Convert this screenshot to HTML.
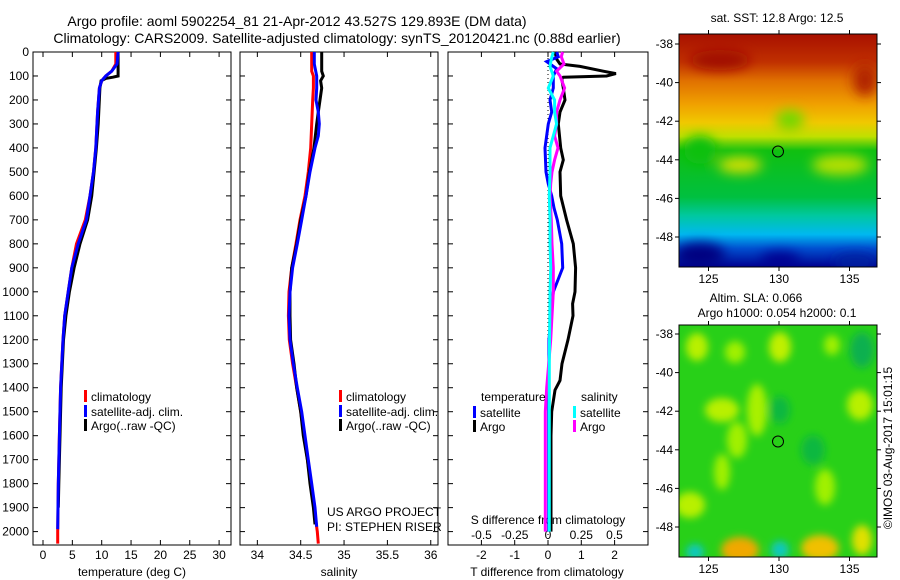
<!DOCTYPE html>
<html><head><meta charset="utf-8"><style>
body{margin:0;background:#fff;}
svg{display:block;font-family:"Liberation Sans",sans-serif;}
</style></head><body>
<svg id="fig" width="900" height="580" viewBox="0 0 900 580" xmlns="http://www.w3.org/2000/svg">
<defs>
<linearGradient id="sstGrad" x1="0" y1="0" x2="0" y2="1">
<stop offset="0" stop-color="#a81000"/><stop offset="0.12" stop-color="#c03000"/>
<stop offset="0.2" stop-color="#e07000"/><stop offset="0.3" stop-color="#f0a000"/>
<stop offset="0.38" stop-color="#f0c800"/><stop offset="0.44" stop-color="#c0e000"/>
<stop offset="0.5" stop-color="#10c010"/><stop offset="0.7" stop-color="#00c040"/>
<stop offset="0.78" stop-color="#00c8a0"/><stop offset="0.86" stop-color="#00b8f0"/>
<stop offset="0.92" stop-color="#0050d0"/><stop offset="1" stop-color="#000090"/>
</linearGradient>
<filter id="blur4"><feGaussianBlur stdDeviation="4"/></filter>
<filter id="blur6"><feGaussianBlur stdDeviation="6"/></filter>
<clipPath id="clipTop"><rect x="679" y="34" width="198" height="233"/></clipPath>
<clipPath id="clipBot"><rect x="679" y="325" width="198" height="232"/></clipPath>
</defs>
<g font-size="14" text-anchor="middle" fill="#000">
<text x="297" y="26">Argo profile: aoml 5902254_81 21-Apr-2012 43.527S 129.893E (DM data)</text>
<text x="337" y="43">Climatology: CARS2009. Satellite-adjusted climatology: synTS_20120421.nc (0.88d earlier)</text>
</g>
<g id="p1"></g>
<g id="p2"></g>
<g id="p3"></g>
<g id="maps">
<g clip-path="url(#clipTop)">
<rect x="679" y="34" width="198" height="233" fill="url(#sstGrad)"/>
<g filter="url(#blur6)">
<ellipse cx="700" cy="150" rx="16" ry="14" fill="#10c010"/>
<ellipse cx="840" cy="165" rx="28" ry="10" fill="#b8e000"/>
<ellipse cx="790" cy="120" rx="14" ry="10" fill="#70d800"/>
<ellipse cx="740" cy="165" rx="22" ry="8" fill="#d8e000"/>
<ellipse cx="720" cy="60" rx="30" ry="10" fill="#a00c00"/>
<ellipse cx="865" cy="80" rx="12" ry="16" fill="#b02000"/>
<ellipse cx="700" cy="255" rx="25" ry="12" fill="#000080"/>
<ellipse cx="780" cy="260" rx="20" ry="8" fill="#000090"/>
<ellipse cx="855" cy="262" rx="22" ry="8" fill="#0020a0"/>
</g>
<circle cx="778" cy="151.5" r="5.5" fill="none" stroke="#000" stroke-width="1"/>
</g>
<rect x="679" y="34" width="198" height="233" fill="none" stroke="#000"/>
<g clip-path="url(#clipBot)">
<rect x="679" y="325" width="198" height="232" fill="#28d018"/>
<g filter="url(#blur4)">
<ellipse cx="697" cy="347" rx="11" ry="14" fill="#b8f000"/>
<ellipse cx="735" cy="352" rx="10" ry="11" fill="#a0f000"/>
<ellipse cx="780" cy="347" rx="11" ry="15" fill="#c0f000"/>
<ellipse cx="832" cy="345" rx="8" ry="10" fill="#a0f000"/>
<ellipse cx="862" cy="350" rx="12" ry="18" fill="#10b050"/>
<ellipse cx="722" cy="410" rx="17" ry="12" fill="#b8f000"/>
<ellipse cx="757" cy="410" rx="10" ry="26" fill="#a8f000"/>
<ellipse cx="737" cy="440" rx="10" ry="18" fill="#a0f000"/>
<ellipse cx="722" cy="472" rx="8" ry="18" fill="#a0f000"/>
<ellipse cx="860" cy="405" rx="13" ry="15" fill="#b8f000"/>
<ellipse cx="780" cy="410" rx="10" ry="14" fill="#10b840"/>
<ellipse cx="813" cy="450" rx="12" ry="15" fill="#10b840"/>
<ellipse cx="825" cy="487" rx="10" ry="18" fill="#a0f000"/>
<ellipse cx="690" cy="505" rx="15" ry="13" fill="#b8f000"/>
<ellipse cx="740" cy="550" rx="19" ry="13" fill="#f0a800"/>
<ellipse cx="820" cy="548" rx="19" ry="13" fill="#f0c000"/>
<ellipse cx="695" cy="552" rx="9" ry="8" fill="#10c8c0"/>
<ellipse cx="780" cy="550" rx="9" ry="9" fill="#10c8c0"/>
<ellipse cx="862" cy="540" rx="10" ry="15" fill="#e0e000"/>
</g>
<circle cx="778" cy="441.5" r="5.5" fill="none" stroke="#000" stroke-width="1"/>
</g>
<rect x="679" y="325" width="198" height="232" fill="none" stroke="#000"/>
<g font-size="12" text-anchor="middle">
<text x="777" y="22">sat. SST: 12.8 Argo: 12.5</text>
<text x="756" y="302">Altim. SLA: 0.066</text>
<text x="777" y="317">Argo h1000: 0.054 h2000: 0.1</text>
<text transform="translate(892,448) rotate(-90)">©IMOS 03-Aug-2017 15:01:15</text>
</g>
<g id="mapAxes"></g>
</g>
</svg>
<script>
// ---- data ----
const tDepthRed=[0,50,80,100,120,150,250,400,500,600,700,800,900,1000,1100,1200,1400,1600,1800,2000,2050];
const tClim=[12.4,12.4,11.7,10.7,10.0,9.6,9.3,9.0,8.6,8.0,7.2,5.7,4.9,4.3,3.7,3.4,3.0,2.8,2.6,2.5,2.5];
const tDepthBlue=[0,50,80,100,120,150,250,400,500,600,700,800,900,1000,1100,1200,1400,1600,1800,1990];
const tSat=[12.8,12.6,11.7,10.7,10.0,9.6,9.3,9.0,8.6,8.0,7.4,6.0,4.9,4.3,3.7,3.4,3.0,2.8,2.6,2.5];
const tDepthArgo=[0,100,105,110,120,150,300,400,500,600,700,800,900,1000,1100,1200,1400,1600,1800,1900];
const tArgo=[12.8,12.8,11.9,10.7,9.9,9.7,9.4,9.1,8.7,8.3,7.6,6.3,5.3,4.5,3.9,3.5,3.1,2.9,2.7,2.6];

const sDepthRed=[0,80,100,150,200,400,500,600,700,800,900,1000,1100,1200,1300,1400,1500,1600,1700,1800,1900,2000,2050];
const sClim=[34.627,34.627,34.646,34.646,34.638,34.615,34.588,34.550,34.492,34.446,34.396,34.365,34.358,34.369,34.407,34.454,34.500,34.538,34.577,34.615,34.653,34.692,34.703];
const sDepthBlue=[0,50,100,150,200,250,300,350,400,500,600,700,800,900,1000,1100,1200,1300,1400,1500,1600,1700,1800,1900,1980];
const sSat=[34.657,34.657,34.684,34.684,34.676,34.703,34.715,34.703,34.665,34.607,34.561,34.511,34.461,34.407,34.377,34.365,34.377,34.415,34.461,34.511,34.550,34.588,34.627,34.665,34.684];
const sDepthArgo=[0,80,100,120,150,200,250,300,400,500,600,700,800,900,1000,1100,1200,1300,1400,1500,1600,1700,1800,1900,1970];
const sArgo=[34.742,34.742,34.761,34.730,34.742,34.723,34.703,34.684,34.653,34.600,34.561,34.500,34.454,34.396,34.377,34.377,34.384,34.423,34.454,34.500,34.530,34.577,34.607,34.646,34.665];

const dDepthTA=[0,30,50,60,80,90,100,105,110,150,200,250,300,400,450,500,600,700,800,900,1000,1050,1100,1200,1300,1370,1410,1500,1600,1800,2000];
const dTArgo=[0.21,0.26,0.36,0.96,1.66,2.04,1.76,0.46,0.41,0.46,0.51,0.36,0.31,0.38,0.46,0.36,0.38,0.56,0.76,0.83,0.81,0.74,0.75,0.6,0.42,0.36,0.21,0.11,0.09,0.09,0.09];
const dDepthTS=[0,20,40,50,70,100,150,200,250,300,400,500,550,600,650,700,800,900,1000,1100,1200,1500,2000];
const dTSat=[0.26,0.31,-0.04,0.06,0.26,0.16,0.16,0.06,0.11,0.01,-0.09,-0.06,0.01,0.11,0.18,0.28,0.41,0.44,0.16,0.09,0.03,0.02,0.02];
const dDepthSA=[0,20,50,80,100,150,200,250,300,350,400,450,500,550,600,700,800,900,1000,1200,1400,1500,1700,2000];
const dSArgo=[0.11,0.10,0.12,0.065,0.09,0.125,0.09,0.065,0.065,0.05,0.075,0.05,0.03,0.02,0.015,0.025,0.03,0.04,0.04,0.02,-0.01,-0.02,-0.02,-0.02];
const dDepthSS=[0,30,60,100,150,200,250,300,350,400,500,600,700,800,900,1000,1300,1600,2000];
const dSSat=[0.04,0.025,0.015,0.04,0.002,0.05,0.05,0.065,0.04,0.015,0.015,0.01,0.015,0.015,0.02,0.015,0.01,0.01,0.01];

const depthTicks=[0,100,200,300,400,500,600,700,800,900,1000,1100,1200,1300,1400,1500,1600,1700,1800,1900,2000];
const tempTicks=[0,5,10,15,20,25,30];
const salTicks=[34,34.5,35,35.5,36];
const tdTicks=[-2,-1,0,1,2];
const sdTicks=[-0.5,-0.25,0,0.25,0.5];
const lonTicks=[125,130,135];
const latTicks=[-38,-40,-42,-44,-46,-48];

// ---- scales ----
const NS='http://www.w3.org/2000/svg';
const yD=d=>52+d*0.2398;
const xT=t=>43+t*5.87;
const xS=s=>300.7+(s-34.5)*86.7;
const xTD=t=>548+t*33.3;
const xSD=s=>548+s*133;
const P1={x0:33,x1:231},P2={x0:240,x1:438},P3={x0:448,x1:648};
const Y0=52,Y1=545;
function el(tag,attrs,parent){const e=document.createElementNS(NS,tag);for(const k in attrs)e.setAttribute(k,attrs[k]);parent.appendChild(e);return e;}
function txt(x,y,s,anchor,parent,size){const t=el('text',{x:x,y:y,'text-anchor':anchor,'font-size':size||12},parent);t.textContent=s;return t;}

function frame(g,P,name){
  const r=el('rect',{x:P.x0,y:Y0,width:P.x1-P.x0,height:Y1-Y0,fill:'none',stroke:'#000'},g);
  
  
  depthTicks.forEach(d=>{
    el('line',{x1:P.x0,x2:P.x0+5,y1:yD(d),y2:yD(d),stroke:'#000'},g);
    el('line',{x1:P.x1,x2:P.x1-5,y1:yD(d),y2:yD(d),stroke:'#000'},g);
  });
}
function xticks(g,vals,fx){
  vals.forEach(v=>{
    el('line',{x1:fx(v),x2:fx(v),y1:Y1,y2:Y1-5,stroke:'#000'},g);
    el('line',{x1:fx(v),x2:fx(v),y1:Y0,y2:Y0+5,stroke:'#000'},g);
  });
}
function line(g,depths,vals,fx,color,name,w){
  const pts=depths.map((d,i)=>fx(vals[i]).toFixed(1)+','+yD(d).toFixed(1)).join(' ');
  const p=el('polyline',{points:pts,fill:'none',stroke:color,'stroke-width':w||3,'stroke-linejoin':'miter'},g);
  
  
}
function legend(g,x,y,color,label,name){
  el('rect',{x:x,y:y-9,width:3,height:12,fill:color},g);
  const t=txt(x+7,y+2,label,'start',g);
  
  
}

// panel 1
const g1=document.getElementById('p1');
frame(g1,P1,'temperature-panel');
xticks(g1,tempTicks,xT);
depthTicks.forEach(d=>{const t=txt(29,yD(d)+4,String(d),'end',g1);});
tempTicks.forEach(v=>{const t=txt(xT(v),559,String(v),'middle',g1);});
const xl1=txt(132,576,'temperature (deg C)','middle',g1);


line(g1,tDepthRed,tClim,xT,'#ff0000','temp-climatology-line');
line(g1,tDepthArgo,tArgo,xT,'#000000','temp-argo-line');
line(g1,tDepthBlue,tSat,xT,'#0000ff','temp-satellite-line');
legend(g1,84,399,'#ff0000','climatology','legend-climatology');
legend(g1,84,414,'#0000ff','satellite-adj. clim.','legend-satellite');
legend(g1,84,428,'#000000','Argo(..raw -QC)','legend-argo');

// panel 2
const g2=document.getElementById('p2');
frame(g2,P2,'salinity-panel');
xticks(g2,salTicks,xS);
salTicks.forEach(v=>{const t=txt(xS(v),559,String(v),'middle',g2);});
const xl2=txt(339,576,'salinity','middle',g2);


line(g2,sDepthRed,sClim,xS,'#ff0000','sal-climatology-line');
line(g2,sDepthArgo,sArgo,xS,'#000000','sal-argo-line');
line(g2,sDepthBlue,sSat,xS,'#0000ff','sal-satellite-line');
legend(g2,339,399,'#ff0000','climatology','legend-climatology-2');
legend(g2,339,414,'#0000ff','satellite-adj. clim.','legend-satellite-2');
legend(g2,339,428,'#000000','Argo(..raw -QC)','legend-argo-2');
const pr1=txt(327,516,'US ARGO PROJECT','start',g2);


const pr2=txt(327,531,'PI: STEPHEN RISER','start',g2);



// panel 3
const g3=document.getElementById('p3');
frame(g3,P3,'difference-panel');
xticks(g3,tdTicks,xTD);
el('line',{x1:548,x2:548,y1:Y0+2,y2:Y1-2,stroke:'#000','stroke-dasharray':'1,3'},g3);
tdTicks.forEach(v=>{const t=txt(xTD(v),559,String(v),'middle',g3);});
sdTicks.forEach(v=>{const t=txt(xSD(v),539,String(v),'middle',g3);});
const st=txt(548,524,'S difference from climatology','middle',g3);


const tt=txt(547,576,'T difference from climatology','middle',g3);


line(g3,dDepthTA,dTArgo,xTD,'#000000','tdiff-argo-line');
line(g3,dDepthTS,dTSat,xTD,'#0000ff','tdiff-satellite-line');
line(g3,dDepthSA,dSArgo,xSD,'#ff00ff','sdiff-argo-line');
line(g3,dDepthSS,dSSat,xSD,'#00ffff','sdiff-satellite-line');
const lt=txt(481,401,'temperature','start',g3);


legend(g3,473,415,'#0000ff','satellite','legend-tdiff-satellite');
legend(g3,473,429,'#000000','Argo','legend-tdiff-argo');
const ls=txt(581,401,'salinity','start',g3);


legend(g3,573,415,'#00ffff','satellite','legend-sdiff-satellite');
legend(g3,573,429,'#ff00ff','Argo','legend-sdiff-argo');

// map axes
const gm=document.getElementById('mapAxes');
const xLon=l=>779+(l-130)*14.1;
[[44,34,267],[334,325,557]].forEach((m,mi)=>{
  const yLat=la=>m[0]+(-38-la)*19.3;
  latTicks.forEach(la=>{
    el('line',{x1:679,x2:675,y1:yLat(la),y2:yLat(la),stroke:'#000'},gm);
    el('line',{x1:877,x2:881,y1:yLat(la),y2:yLat(la),stroke:'#000'},gm);
    const t=txt(673,yLat(la)+4,String(la),'end',gm);
    
    
  });
  lonTicks.forEach(lo=>{
    el('line',{x1:xLon(lo),x2:xLon(lo),y1:m[1],y2:m[1]-4,stroke:'#000'},gm);
    el('line',{x1:xLon(lo),x2:xLon(lo),y1:m[2],y2:m[2]+4,stroke:'#000'},gm);
    const t=txt(xLon(lo),m[2]+16,String(lo),'middle',gm);
    
    
  });
});
</script>
</body></html>
